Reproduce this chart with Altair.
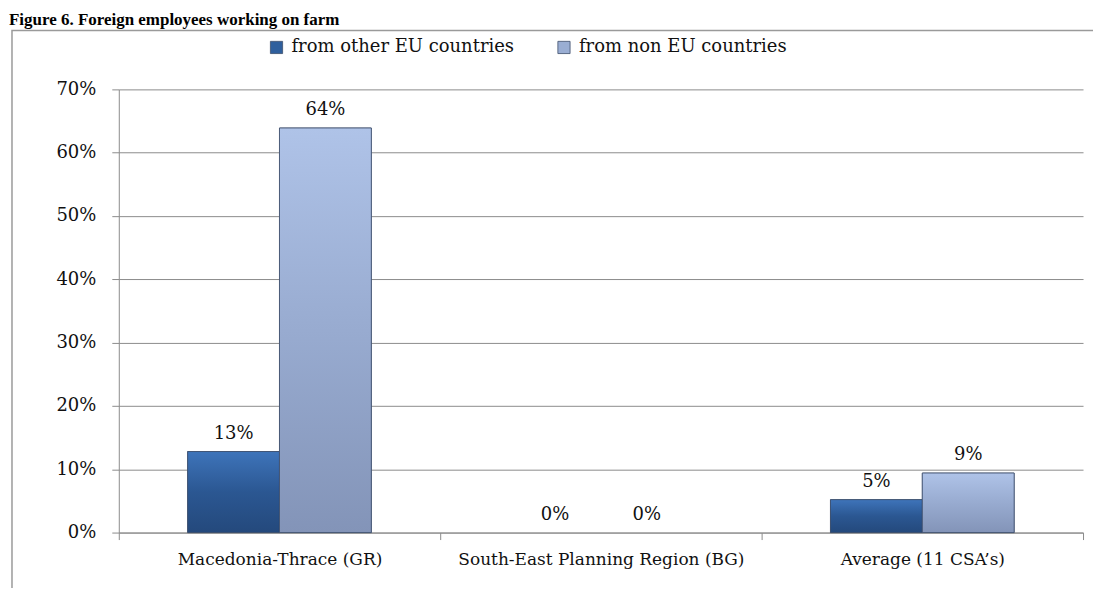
import altair as alt
import pandas as pd

regions = ["Macedonia-Thrace (GR)", "South-East Planning Region (BG)", "Average (11 CSA’s)"]
series = ["from other EU countries", "from non EU countries"]
other_eu = [0.128, 0.0, 0.052]
non_eu = [0.639, 0.0, 0.094]
y_ticks = [0, 0.1, 0.2, 0.3, 0.4, 0.5, 0.6, 0.7]
title_text = "Figure 6. Foreign employees working on farm"
colors = ["#2f5f9d", "#9aaed3"]
grad_stops = [["#3e74ba", "#2b5792", "#24497c"], ["#afc3e8", "#98abd0", "#8394b8"]]

rows = []
for r, a, b in zip(regions, other_eu, non_eu):
    rows.append({"region": r, "series": series[0], "value": a})
    rows.append({"region": r, "series": series[1], "value": b})
df = pd.DataFrame(rows)

FONT = "DejaVu Serif"

x_enc = alt.X(
    "region:N", sort=regions,
    scale=alt.Scale(paddingInner=0, paddingOuter=0),
    axis=alt.Axis(title=None, labelAngle=0, tickBand="extent", domainColor="#8c8c8c",
                  tickColor="#8c8c8c", tickSize=7, labelPadding=12, labelFont=FONT,
                  labelFontSize=17, labelColor="#111", labelLimit=0, labelOverlap=False,
                  grid=False),
)
xoff_enc = alt.XOffset("series:N", sort=series,
                       scale=alt.Scale(domain=series, paddingOuter=0.75, paddingInner=0))
y_enc = alt.Y(
    "value:Q", scale=alt.Scale(domain=[0, 0.7]),
    axis=alt.Axis(title=None, format=".0%", values=y_ticks, grid=True, gridColor="#8c8c8c",
                  gridWidth=1, domainColor="#8c8c8c", tickColor="#8c8c8c", tickSize=7,
                  labelPadding=16, labelFont=FONT, labelFontSize=18, labelColor="#111"),
)

base = alt.Chart(df)
visible = alt.condition("datum.value > 0", alt.value(1), alt.value(0))

bars = base.mark_bar(stroke="#3f4f6c", strokeWidth=0.8).encode(
    x=x_enc, xOffset=xoff_enc, y=y_enc,
    opacity=visible,
    color=alt.Color("series:N", sort=series,
                    scale=alt.Scale(domain=series, range=colors),
                    legend=alt.Legend(orient="none", legendX=149, legendY=-51,
                                      direction="horizontal", title=None,
                                      symbolType="square", symbolSize=150,
                                      symbolStrokeColor="#3f4f6c", symbolStrokeWidth=0.8,
                                      symbolOpacity=1,
                                      labelFont=FONT, labelFontSize=18, labelColor="#111",
                                      columnPadding=40, labelOffset=6, labelLimit=0)),
)

grad_layers = []
for s, stops in zip(series, grad_stops):
    g = alt.Gradient(
        gradient="linear",
        stops=[alt.GradientStop(color=stops[0], offset=0),
               alt.GradientStop(color=stops[1], offset=0.5),
               alt.GradientStop(color=stops[2], offset=1)],
        x1=0, x2=0, y1=0, y2=1,
    )
    grad_layers.append(
        base.transform_filter(alt.datum.series == s).mark_bar(
            color=g, stroke="#3f4f6c", strokeWidth=0.8
        ).encode(
            x=alt.X("region:N", sort=regions), xOffset=alt.XOffset("series:N", sort=series),
            y="value:Q", opacity=visible,
        )
    )

labels = base.mark_text(baseline="bottom", dy=-9, font=FONT, fontSize=18, color="#111").encode(
    x=alt.X("region:N", sort=regions), xOffset=alt.XOffset("series:N", sort=series),
    y="value:Q", text=alt.Text("value:Q", format=".0%"),
)

one = pd.DataFrame({"k": [0]})
frame = alt.Chart(one).mark_rect(fillOpacity=0, stroke="#9a9a9a", strokeWidth=1.5).encode(
    x=alt.value(-107), x2=alt.value(1010), y=alt.value(-59), y2=alt.value(600),
)
title = alt.Chart(one).mark_text(align="left", baseline="alphabetic", font="Liberation Serif",
                                 fontWeight="bold", fontSize=17, color="#000").encode(
    x=alt.value(-110), y=alt.value(-65), text=alt.value(title_text),
)

chart = alt.layer(frame, bars, *grad_layers, labels, title).properties(
    width=966, height=444,
    autosize=alt.AutoSizeParams(type="none"),
    padding={"left": 111, "top": 81, "right": 10, "bottom": 55},
    background="white",
).configure_view(stroke=None)

chart.save("out.html", embed_options={"renderer": "svg", "actions": False})
